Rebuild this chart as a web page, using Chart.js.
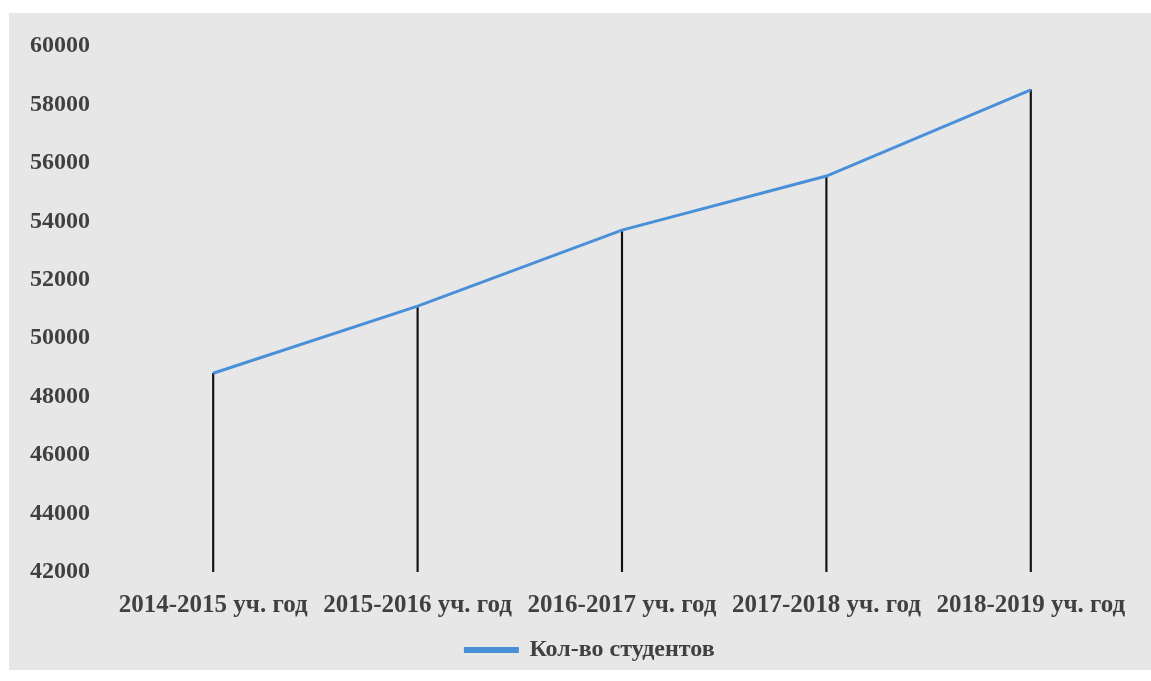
<!DOCTYPE html>
<html>
<head>
<meta charset="utf-8">
<script src="https://cdn.jsdelivr.net/npm/chart.js@4/dist/chart.umd.min.js"></script>
<style>
  html, body { margin: 0; padding: 0; background: #ffffff; width: 1151px; height: 681px; overflow: hidden; }
  #wrap { position: absolute; left: 9px; top: 13px; width: 1142px; height: 657px; background: #e7e7e7; }
  canvas { display: block; }
</style>
</head>
<body>
<div id="wrap"><canvas id="c" width="1142" height="657"></canvas></div>
<script>
const categories = ["2014-2015 уч. год", "2015-2016 уч. год", "2016-2017 уч. год", "2017-2018 уч. год", "2018-2019 уч. год"];
const students = [48800, 51100, 53700, 55550, 58500];
const seriesName = "Кол-во студентов";
const yMin = 42000, yMax = 60000, yStep = 2000;

const fontFamily = "'Liberation Serif', 'Times New Roman', serif";
const textColor = "#404040";

const legendShift = {
  id: 'legendShift',
  afterLayout(chart) {
    const lg = chart.legend;
    if (!lg) return;
    lg.left += 19; lg.right += 19;
    lg.top += 2; lg.bottom += 2;
  }
};

new Chart(document.getElementById('c'), {
  type: 'line',
  data: {
    labels: categories,
    datasets: [
      {
        type: 'line',
        label: seriesName,
        data: students,
        borderColor: '#4a90d9',
        backgroundColor: '#4a90d9',
        borderWidth: 3,
        pointRadius: 0,
        tension: 0,
        order: 0
      },
      {
        type: 'bar',
        label: 'drop',
        data: students,
        backgroundColor: '#111111',
        barThickness: 1.5,
        order: 1
      }
    ]
  },
  options: {
    responsive: false,
    animation: false,
    layout: { padding: { top: 33, right: 18, bottom: 0, left: 0 } },
    plugins: {
      tooltip: { enabled: false },
      legend: {
        position: 'bottom',
        labels: {
          filter: (item) => item.text !== 'drop',
          boxWidth: 52,
          boxHeight: 3,
          padding: 6,
          color: textColor,
          font: { family: fontFamily, size: 24, weight: 'bold' }
        }
      }
    },
    scales: {
      x: {
        offset: true,
        grid: { display: false, drawTicks: false },
        border: { display: false },
        afterFit: (scale) => { scale.height = 58; },
        ticks: {
          color: textColor,
          padding: 19,
          maxRotation: 0,
          autoSkip: false,
          font: { family: fontFamily, size: 25, weight: 'bold' }
        }
      },
      y: {
        min: yMin,
        max: yMax,
        grid: { display: false, drawTicks: false },
        border: { display: false },
        afterFit: (scale) => { scale.width = 102; scale.paddingTop = 0; scale.paddingBottom = 0; },
        ticks: {
          stepSize: yStep,
          color: textColor,
          padding: 21,
          callback: (v) => String(v),
          font: { family: fontFamily, size: 24, weight: 'bold' }
        }
      }
    }
  },
  plugins: [legendShift]
});
</script>
</body>
</html>
